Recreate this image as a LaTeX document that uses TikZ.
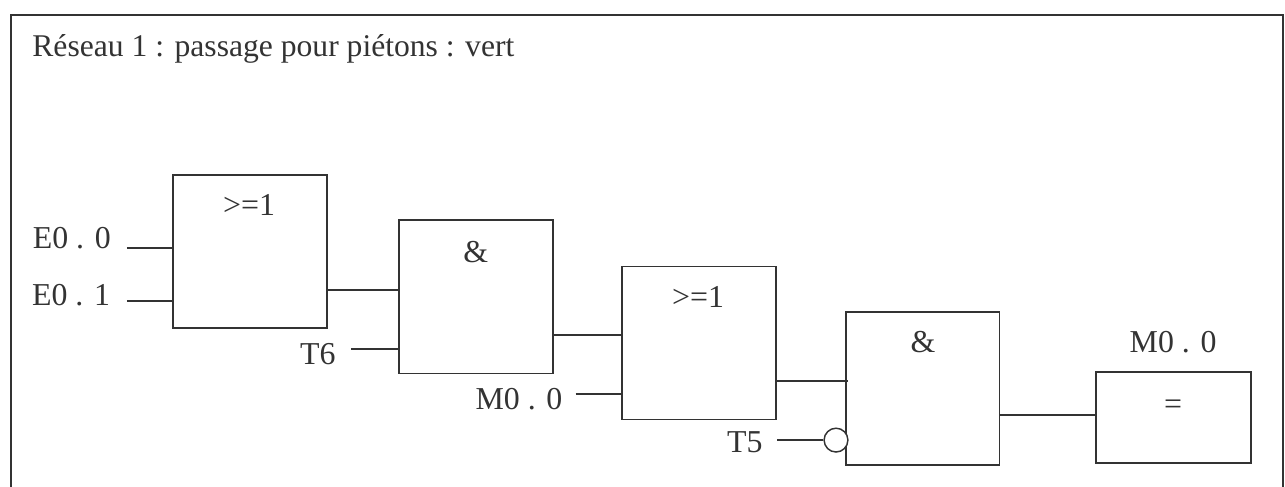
\documentclass[tikz,border=0pt]{standalone}
\usepackage{fontspec}
\setmainfont{Liberation Serif}
\usepackage{tikz}
\definecolor{ink}{HTML}{333333}
\tikzset{
    every node/.style={inner sep=0mm, text=ink, font=\fontsize{24}{28}\selectfont},
    gate/.style={shape=rectangle, draw=ink, line width=1.3pt, minimum width=4.07cm, minimum height=4.05cm},
    txt/.style={anchor=base},
    bubble/.style={circle, draw=ink, fill=white, line width=1.1pt, minimum size=0.63cm},
    wire/.style={draw=ink, line width=1.1pt}
}

\begin{document}
\begin{tikzpicture}
    \useasboundingbox (0cm, 0cm) rectangle (34.0cm, 12.885cm);

    \coordinate (ftl) at (0.29cm, 12.49cm);
    \coordinate (ftr) at (33.95cm, 12.49cm);
    \coordinate (fbl) at (0.29cm, 0cm);
    \coordinate (fbr) at (33.95cm, 0cm);
    \draw [wire, line width=1.3pt] (fbl) -- (ftl) -- (ftr) -- (fbr);

    \node (title) at (0.85cm, 11.38cm) [anchor=base west, font=\fontsize{23.8}{28}\selectfont] {Réseau 1 : passage pour piétons : vert};

    \node (or1) at (6.61cm, 6.23cm) [gate] {};
    \node (and1) at (12.59cm, 5.03cm) [gate] {};
    \node (or2) at (18.49cm, 3.81cm) [gate] {};
    \node (and2) at (24.41cm, 2.61cm) [gate] {};
    \node (out) at (31.05cm, 1.84cm) [gate, minimum width=4.10cm, minimum height=2.41cm] {};

    \node (or1t) at (6.59cm, 7.17cm) [txt] {>=1};
    \node (and1t) at (12.59cm, 5.95cm) [txt] {\&};
    \node (or2t) at (18.47cm, 4.74cm) [txt] {>=1};
    \node (and2t) at (24.42cm, 3.55cm) [txt] {\&};
    \node (outt) at (31.04cm, 1.93cm) [txt] {=};

    \node (e00) at (1.90cm, 6.30cm) [txt] {E0 . 0};
    \node (e01) at (1.88cm, 4.79cm) [txt] {E0 . 1};
    \node (t6) at (8.41cm, 3.25cm) [txt] {T6};
    \node (m00) at (13.73cm, 2.06cm) [txt] {M0 . 0};
    \node (t5) at (19.71cm, 0.90cm) [txt] {T5};
    \node (m00o) at (31.04cm, 3.57cm) [txt] {M0 . 0};

    \coordinate (e00e) at (3.36cm, 6.32cm);
    \coordinate (e01e) at (3.36cm, 4.92cm);
    \coordinate (t6e) at (9.29cm, 3.65cm);
    \coordinate (m00e) at (15.23cm, 2.46cm);
    \coordinate (t5e) at (20.56cm, 1.24cm);
    \coordinate (w1) at (0cm, 5.21cm);
    \coordinate (w2) at (0cm, 4.02cm);
    \coordinate (w3) at (22.44cm, 2.80cm);
    \coordinate (w4) at (0cm, 1.90cm);

    \node (neg) at (22.12cm, 1.24cm) [bubble] {};

    \draw [wire] (e00e) -- (e00e -| or1.west);
    \draw [wire] (e01e) -- (e01e -| or1.west);
    \draw [wire] (or1.east |- w1) -- (and1.west |- w1);
    \draw [wire] (t6e) -- (t6e -| and1.west);
    \draw [wire] (and1.east |- w2) -- (or2.west |- w2);
    \draw [wire] (m00e) -- (m00e -| or2.west);
    \draw [wire] (or2.east |- w3) -- (w3);
    \draw [wire] (t5e) -- (neg);
    \draw [wire] (and2.east |- w4) -- (out.west |- w4);
\end{tikzpicture}
\end{document}
